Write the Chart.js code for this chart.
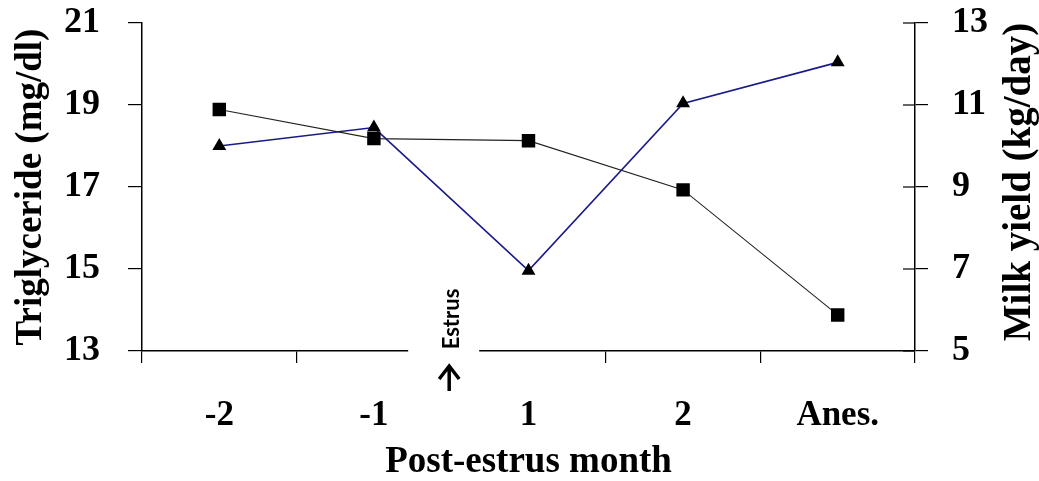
<!DOCTYPE html>
<html>
<head>
<meta charset="utf-8">
<script src="https://cdn.jsdelivr.net/npm/chart.js@4/dist/chart.umd.min.js"></script>
<style>
    body { margin: 0; background: #fff; }
    #chartContainer { width: 1039px; height: 481px; }
</style>
</head>
<body>
<div id="chartContainer"><canvas id="lipidChart" width="1039" height="481"></canvas></div>
<script>
const monthLabels = ['-2', '-1', '1', '2', 'Anes.'];
const triglycerideValues = [18.89, 18.18, 18.13, 16.93, 13.88];
const milkYieldValues = [10.0, 10.45, 6.96, 11.04, 12.04];
const triglycerideTicks = [13, 15, 17, 19, 21];
const milkYieldTicks = [5, 7, 9, 11, 13];

const serifBold = { family: '"Liberation Serif", "Times New Roman", serif', weight: 'bold' };

// draws the axis break with the "Estrus" marker, inner ticks of right axis and its title
const estrusMarkerPlugin = {
    id: 'estrusMarker',
    afterDraw(chart) {
        const ctx = chart.ctx;
        const xScale = chart.scales.x;
        const rightScale = chart.scales.y1;
        const axisY = xScale.top;
        const breakX = (xScale.getPixelForValue(1) + xScale.getPixelForValue(2)) / 2;

        ctx.save();
        // gap in x axis
        ctx.fillStyle = '#fff';
        ctx.fillRect(breakX - 43, axisY - 4, 71, 18);

        // inner ticks on right axis
        ctx.strokeStyle = '#000';
        ctx.lineWidth = 1.2;
        milkYieldTicks.forEach(function (v) {
            const y = rightScale.getPixelForValue(v);
            ctx.beginPath();
            ctx.moveTo(rightScale.left - 12, y);
            ctx.lineTo(rightScale.left, y);
            ctx.stroke();
        });

        // Estrus label
        ctx.fillStyle = '#000';
        ctx.font = 'bold 22px Lato, "Open Sans", sans-serif';
        ctx.textAlign = 'center';
        ctx.textBaseline = 'middle';
        ctx.translate(breakX + 1, axisY - 32);
        ctx.rotate(-Math.PI / 2);
        ctx.fillText('Estrus', 0, 0);
        ctx.restore();

        // arrow
        ctx.save();
        ctx.strokeStyle = '#000';
        ctx.lineWidth = 3.5;
        ctx.beginPath();
        ctx.moveTo(breakX - 2, axisY + 40);
        ctx.lineTo(breakX - 2, axisY + 15);
        ctx.moveTo(breakX - 12, axisY + 28);
        ctx.lineTo(breakX - 2, axisY + 15);
        ctx.lineTo(breakX + 8, axisY + 28);
        ctx.stroke();
        ctx.restore();

        // right axis title, reading bottom to top
        ctx.save();
        ctx.fillStyle = '#000';
        ctx.font = 'bold 39px "Liberation Serif", "Times New Roman", serif';
        ctx.textAlign = 'center';
        ctx.textBaseline = 'middle';
        ctx.translate(1020, (rightScale.top + rightScale.bottom) / 2 - 5);
        ctx.rotate(-Math.PI / 2);
        ctx.fillText('Milk yield (kg/day)', 0, 0);
        ctx.restore();
    }
};

function FitVerticalScale(width) {
    return function (scale) {
        scale.width = width;
        scale.paddingTop = 0;
        scale.paddingBottom = 0;
    };
}

function LoadDualAxisChart(chartId) {
    const context = document.getElementById(chartId).getContext('2d');

    const chartData = {
        labels: monthLabels,
        datasets: [
            {
                label: 'Triglyceride',
                data: triglycerideValues,
                yAxisID: 'y',
                borderColor: '#222',
                borderWidth: 1.1,
                backgroundColor: '#000',
                pointStyle: 'rect',
                pointRadius: 9.5,
                pointBorderWidth: 0,
                tension: 0
            },
            {
                label: 'Milk yield',
                data: milkYieldValues,
                yAxisID: 'y1',
                borderColor: '#1a1a8a',
                borderWidth: 1.6,
                backgroundColor: '#000',
                pointStyle: 'triangle',
                pointRadius: 8,
                pointBorderWidth: 0,
                tension: 0
            }
        ]
    };

    new Chart(context, {
        type: 'line',
        data: chartData,
        options: {
            responsive: false,
            animation: false,
            layout: { padding: { top: 23, left: 0, right: 0, bottom: 0 } },
            plugins: {
                legend: { display: false },
                tooltip: { enabled: false }
            },
            scales: {
                x: {
                    offset: true,
                    grid: { display: true, drawOnChartArea: false, offset: true, tickLength: 12, color: '#000', lineWidth: 1.2 },
                    border: { display: true, color: '#000', width: 1.5 },
                    ticks: { color: '#000', padding: 35, font: Object.assign({ size: 35, lineHeight: 1 }, serifBold), maxRotation: 0 },
                    title: { display: true, text: 'Post-estrus month', color: '#000', padding: { top: 0, bottom: 0 }, font: Object.assign({ size: 37, lineHeight: 1 }, serifBold) },
                    afterFit: function (scale) { scale.height = 130; scale.paddingLeft = 0; scale.paddingRight = 0; }
                },
                y: {
                    position: 'left',
                    min: 13,
                    max: 21,
                    afterBuildTicks: function (scale) { scale.ticks = triglycerideTicks.map(function (v) { return { value: v }; }); },
                    grid: { display: true, drawOnChartArea: false, tickLength: 14, color: '#000', lineWidth: 1.2 },
                    border: { display: true, color: '#000', width: 1.5 },
                    ticks: { color: '#000', padding: 28, font: Object.assign({ size: 36, lineHeight: 1 }, serifBold) },
                    title: { display: true, text: 'Triglyceride (mg/dl)', color: '#000', padding: { top: 13, bottom: 0 }, font: Object.assign({ size: 37, lineHeight: 1 }, serifBold) },
                    afterFit: FitVerticalScale(142)
                },
                y1: {
                    position: 'right',
                    min: 5,
                    max: 13,
                    afterBuildTicks: function (scale) { scale.ticks = milkYieldTicks.map(function (v) { return { value: v }; }); },
                    grid: { display: true, drawOnChartArea: false, tickLength: 13, color: '#000', lineWidth: 1.2 },
                    border: { display: true, color: '#000', width: 1.5 },
                    ticks: { color: '#000', padding: 24, font: Object.assign({ size: 36, lineHeight: 1 }, serifBold) },
                    afterFit: FitVerticalScale(124)
                }
            }
        },
        plugins: [estrusMarkerPlugin]
    });
}

LoadDualAxisChart('lipidChart');
</script>
</body>
</html>
